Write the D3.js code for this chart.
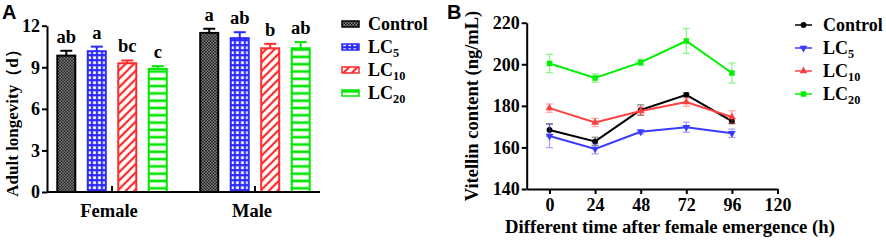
<!DOCTYPE html>
<html>
<head>
<meta charset="utf-8">
<script src="https://cdn.jsdelivr.net/npm/d3@7"></script>
<style>
  body { margin: 0; background: #fff; }
  svg { display: block; }
  svg text { font-family: "Liberation Serif", "Times New Roman", "DejaVu Serif", serif; font-weight: bold; }
  svg text.panel { font-family: "Liberation Sans", Arial, sans-serif; }
</style>
</head>
<body>
<div id="vizcontainer"></div>
<script>
// panel A data: adult longevity (d)
const groups = ['Female', 'Male'];
const series = ['Control', 'LC5', 'LC10', 'LC20'];
const longevityFemale = [9.84, 10.16, 9.29, 8.88];
const longevityMale = [11.48, 11.10, 10.37, 10.37];
const longevityFemaleSE = [0.35, 0.33, 0.2, 0.2];
const longevityMaleSE = [0.3, 0.43, 0.32, 0.45];
const lettersFemale = ['ab', 'a', 'bc', 'c'];
const lettersMale = ['a', 'ab', 'b', 'ab'];
const yTicksA = [0, 3, 6, 9, 12];

// panel B data: vitellin content (ng/mL)
const hours = [0, 24, 48, 72, 96];
const vitControl = [168.4, 162.9, 178.0, 185.3, 172.6];
const vitLC5 = [165.5, 159.3, 167.5, 169.7, 166.8];
const vitLC10 = [178.9, 172.0, 177.5, 181.8, 174.6];
const vitLC20 = [200.4, 193.4, 200.9, 211.2, 195.8];
const seControl = [3, 2, 2.5, 1, 1.2];
const seLC5 = [5.6, 2.4, 1, 2.4, 2];
const seLC10 = [2, 2, 2, 2, 3];
const seLC20 = [4.4, 2, 1.5, 6, 4.8];
const xTicksB = [0, 24, 48, 72, 96, 120];
const yTicksB = [140, 160, 180, 200, 220];

const
  width = 886,
  height = 240,
  colorsA = ['#000000', '#2a2aff', '#ff2a2a', '#00e600'],
  colorsB = ['#000000', '#3b3bff', '#ff4040', '#00f000']
  ;

const svg = d3.select('#vizcontainer')
  .append('svg')
  .attr('width', width)
  .attr('height', height);

// ---------- patterns ----------
const defs = svg.append('defs');

let p = defs.append('pattern').attr('id', 'pat0')
  .attr('patternUnits', 'userSpaceOnUse').attr('width', 3).attr('height', 3);
p.append('rect').attr('width', 3).attr('height', 3).attr('fill', '#8c8c8c');
p.append('rect').attr('width', 1.5).attr('height', 1.5).attr('fill', '#111');
p.append('rect').attr('x', 1.5).attr('y', 1.5).attr('width', 1.5).attr('height', 1.5).attr('fill', '#111');

p = defs.append('pattern').attr('id', 'pat1')
  .attr('patternUnits', 'userSpaceOnUse').attr('width', 5).attr('height', 5);
p.append('rect').attr('width', 5).attr('height', 5).attr('fill', colorsA[1]);
p.append('rect').attr('x', 1.3).attr('y', 1.3).attr('width', 2.8).attr('height', 2.8).attr('fill', '#fff');

p = defs.append('pattern').attr('id', 'pat2')
  .attr('patternUnits', 'userSpaceOnUse').attr('width', 6).attr('height', 6)
  .attr('patternTransform', 'rotate(45)');
p.append('rect').attr('width', 6).attr('height', 6).attr('fill', '#fff');
p.append('line').attr('x1', 3).attr('x2', 3).attr('y1', 0).attr('y2', 6)
  .attr('stroke', colorsA[2]).attr('stroke-width', 2.2);

p = defs.append('pattern').attr('id', 'pat3')
  .attr('patternUnits', 'userSpaceOnUse').attr('width', 6).attr('height', 7.3)
  .attr('y', 192);
p.append('rect').attr('width', 6).attr('height', 7.3).attr('fill', '#fff');
p.append('line').attr('x1', 0).attr('x2', 6).attr('y1', 3.6).attr('y2', 3.6)
  .attr('stroke', colorsA[3]).attr('stroke-width', 2.6);

function subLabel(sel, name, size) {
  // 'LC10' -> LC + subscript 10
  const m = name.match(/^(LC)(\d+)$/);
  if (!m) { sel.text(name); return; }
  sel.append('tspan').text(m[1]);
  sel.append('tspan').text(m[2])
    .attr('font-size', size * 0.68)
    .attr('dy', size * 0.22);
}

// ---------- panel A ----------
const gA = svg.append('g');

const x0 = d3.scaleBand().domain(groups).range([47, 320]).paddingInner(0.22).paddingOuter(0.065);
const x1 = d3.scaleBand().domain(series).range([0, x0.bandwidth()]).paddingInner(0.344);
const yA = d3.scaleLinear().domain([0, 12]).range([192, 25.7]);

const barData = [];
groups.forEach((g, gi) => {
  const vals = gi === 0 ? longevityFemale : longevityMale;
  const ses = gi === 0 ? longevityFemaleSE : longevityMaleSE;
  const lets = gi === 0 ? lettersFemale : lettersMale;
  series.forEach((s, si) => {
    barData.push({ group: g, key: s, i: si, value: vals[si], se: ses[si], letter: lets[si] });
  });
});

const bars = gA.append('g')
  .selectAll('g')
  .data(barData)
  .join('g')
  .attr('transform', d => `translate(${x0(d.group) + x1(d.key)},0)`);

bars.append('rect')
  .attr('x', 1)
  .attr('y', d => yA(d.value))
  .attr('width', x1.bandwidth() - 2)
  .attr('height', d => yA(0) - yA(d.value))
  .attr('fill', d => `url(#pat${d.i})`)
  .attr('stroke', d => colorsA[d.i])
  .attr('stroke-width', 2);

// error bars (upper only)
bars.append('line')
  .attr('x1', x1.bandwidth() / 2).attr('x2', x1.bandwidth() / 2)
  .attr('y1', d => yA(d.value)).attr('y2', d => yA(d.value + d.se))
  .attr('stroke', d => colorsA[d.i]).attr('stroke-width', 2);
bars.append('line')
  .attr('x1', x1.bandwidth() / 2 - 6).attr('x2', x1.bandwidth() / 2 + 6)
  .attr('y1', d => yA(d.value + d.se)).attr('y2', d => yA(d.value + d.se))
  .attr('stroke', d => colorsA[d.i]).attr('stroke-width', 2);

bars.append('text')
  .text(d => d.letter)
  .attr('x', x1.bandwidth() / 2)
  .attr('y', d => yA(d.value + d.se) - 8)
  .attr('text-anchor', 'middle')
  .attr('font-size', 18.5);

gA.append('g')
  .attr('transform', 'translate(47,0)')
  .call(d3.axisLeft(yA).tickValues(yTicksA).tickSize(5).tickPadding(2).tickSizeOuter(0));

const axAx = gA.append('g')
  .attr('transform', 'translate(0,192)')
  .call(d3.axisBottom(x0).tickSize(-6).tickSizeOuter(0).tickFormat(''));
axAx.select('.domain').attr('d', `M47,0H320`);

groups.forEach(g => {
  gA.append('text')
    .text(g)
    .attr('x', x0(g) + x0.bandwidth() / 2 - 3)
    .attr('y', 217)
    .attr('text-anchor', 'middle')
    .attr('font-size', 18.5);
});

gA.append('text')
  .attr('transform', 'translate(18,119) rotate(-90)')
  .attr('text-anchor', 'middle')
  .attr('font-size', 17)
  .text('Adult longevity（d）');

gA.append('text')
  .attr('class', 'panel')
  .text('A')
  .attr('x', 2).attr('y', 19)
  .attr('font-size', 20);

// legend A
const legA = gA.append('g')
  .selectAll('g')
  .data(series)
  .join('g')
  .attr('transform', (d, i) => `translate(342,${24 + i * 23})`);

legA.append('rect')
  .attr('x', 0).attr('y', -3)
  .attr('width', 17).attr('height', 6)
  .attr('fill', (d, i) => `url(#pat${i})`)
  .attr('stroke', (d, i) => colorsA[i])
  .attr('stroke-width', 1.5);

legA.append('text')
  .attr('x', 26).attr('y', 6)
  .attr('font-size', 18)
  .each(function (d) { subLabel(d3.select(this), d, 18); });

// ---------- panel B ----------
const gB = svg.append('g');

const xB = d3.scaleLinear().domain([-12, 120]).range([526.7, 777.5]);
const yB = d3.scaleLinear().domain([140, 220]).range([189, 22.7]);

const lineData = [
  { key: 'Control', values: vitControl, se: seControl, marker: d3.symbolCircle },
  { key: 'LC5', values: vitLC5, se: seLC5, marker: 'down' },
  { key: 'LC10', values: vitLC10, se: seLC10, marker: d3.symbolTriangle },
  { key: 'LC20', values: vitLC20, se: seLC20, marker: d3.symbolSquare }
];

gB.append('g')
  .attr('transform', 'translate(526.7,0)')
  .call(d3.axisLeft(yB).tickValues(yTicksB).tickSize(5).tickPadding(2).tickSizeOuter(0));

gB.append('g')
  .attr('transform', 'translate(0,189)')
  .call(d3.axisBottom(xB).tickValues(xTicksB).tickSize(5).tickPadding(4).tickSizeOuter(0));

function markerPath(m) {
  if (m === 'down') {
    return d3.symbol().type(d3.symbolTriangle).size(26)();
  }
  return d3.symbol().type(m).size(m === d3.symbolSquare ? 30 : 26)();
}

lineData.forEach((s, si) => {
  const g = gB.append('g');
  const pts = s.values.map((v, i) => ({ h: hours[i], v: v, se: s.se[i] }));

  // error bars, lighter
  const eb = g.append('g').attr('opacity', 0.45)
    .selectAll('g').data(pts).join('g');
  eb.append('line')
    .attr('x1', d => xB(d.h)).attr('x2', d => xB(d.h))
    .attr('y1', d => yB(d.v - d.se)).attr('y2', d => yB(d.v + d.se))
    .attr('stroke', colorsB[si]).attr('stroke-width', 1.3);
  eb.append('line')
    .attr('x1', d => xB(d.h) - 3.5).attr('x2', d => xB(d.h) + 3.5)
    .attr('y1', d => yB(d.v + d.se)).attr('y2', d => yB(d.v + d.se))
    .attr('stroke', colorsB[si]).attr('stroke-width', 1.3);
  eb.append('line')
    .attr('x1', d => xB(d.h) - 3.5).attr('x2', d => xB(d.h) + 3.5)
    .attr('y1', d => yB(d.v - d.se)).attr('y2', d => yB(d.v - d.se))
    .attr('stroke', colorsB[si]).attr('stroke-width', 1.3);

  g.append('path')
    .attr('d', d3.line().x(d => xB(d.h)).y(d => yB(d.v))(pts))
    .attr('fill', 'none')
    .attr('stroke', colorsB[si])
    .attr('stroke-width', 2);

  g.selectAll('.mk')
    .data(pts)
    .join('path')
    .attr('class', 'mk')
    .attr('d', markerPath(s.marker))
    .attr('transform', d => `translate(${xB(d.h)},${yB(d.v)})` + (s.marker === 'down' ? ' rotate(180)' : ''))
    .attr('fill', colorsB[si]);
});

gB.append('text')
  .attr('transform', 'translate(478,106) rotate(-90)')
  .attr('text-anchor', 'middle')
  .attr('font-size', 18.5)
  .text('Vitellin content (ng/mL)');

gB.append('text')
  .attr('x', 670).attr('y', 233)
  .attr('text-anchor', 'middle')
  .attr('font-size', 18.7)
  .text('Different time after female emergence (h)');

gB.append('text')
  .attr('class', 'panel')
  .text('B')
  .attr('x', 447).attr('y', 19)
  .attr('font-size', 20);

// legend B
const legB = gB.append('g')
  .selectAll('g')
  .data(lineData)
  .join('g')
  .attr('transform', (d, i) => `translate(795,${25 + i * 23})`);

legB.append('line')
  .attr('x1', 0).attr('x2', 17)
  .attr('stroke', (d, i) => colorsB[i])
  .attr('stroke-width', 1.5);

legB.append('path')
  .attr('d', d => markerPath(d.marker))
  .attr('transform', d => 'translate(8.5,0)' + (d.marker === 'down' ? ' rotate(180)' : ''))
  .attr('fill', (d, i) => colorsB[i]);

legB.append('text')
  .attr('x', 28).attr('y', 6)
  .attr('font-size', 18)
  .each(function (d) { subLabel(d3.select(this), d.key, 18); });

// axis styling
svg.selectAll('.domain').attr('stroke', '#000').attr('stroke-width', 2);
svg.selectAll('.tick line').attr('stroke', '#000').attr('stroke-width', 2);
svg.selectAll('.tick text')
  .attr('fill', '#000')
  .attr('font-size', 18);
</script>
</body>
</html>
